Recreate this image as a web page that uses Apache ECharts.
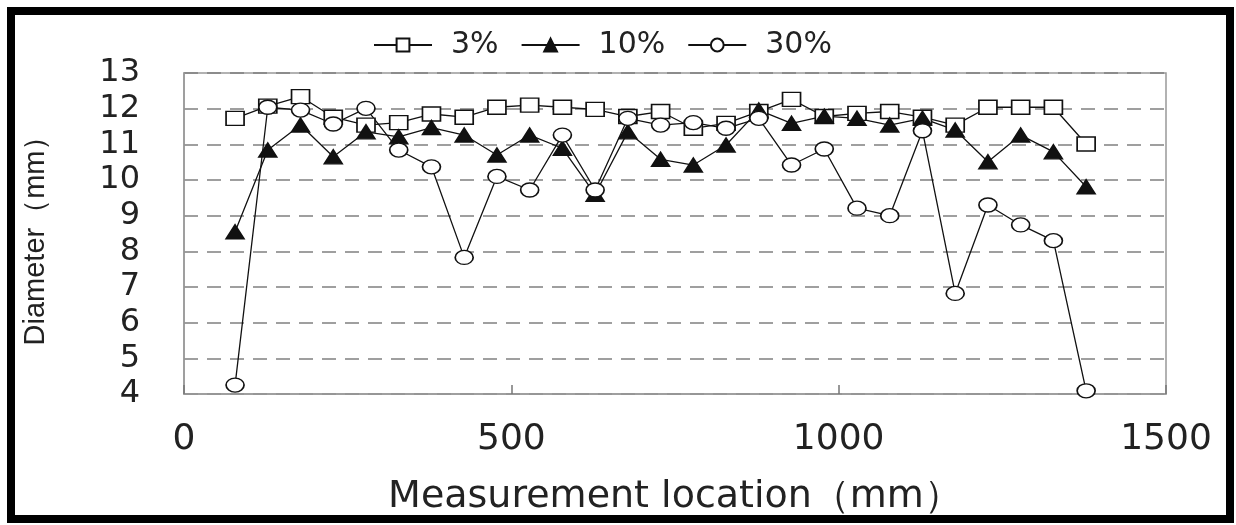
<!DOCTYPE html>
<html>
<head>
<meta charset="utf-8">
<script src="https://cdn.jsdelivr.net/npm/echarts@6/dist/echarts.min.js"></script>
<style>
html,body{margin:0;padding:0;background:#fff;}
#chart{width:1236px;height:525px;}
</style>
</head>
<body>
<div id="chart"></div>
<script>
// Measurement locations (mm)
const positions = [78,128,178,228,278,328,378,428,478,528,578,628,678,728,778,828,878,928,978,1028,1078,1128,1178,1228,1278,1328,1378];
// Diameter (mm) for each series
const s3  = [11.73,12.07,12.34,11.76,11.54,11.61,11.85,11.76,12.04,12.10,12.04,11.98,11.78,11.92,11.45,11.59,11.92,12.26,11.78,11.87,11.92,11.76,11.54,12.04,12.04,12.04,11.01];
const s10 = [8.55,10.84,11.54,10.65,11.35,11.21,11.47,11.26,10.70,11.26,10.89,9.60,11.35,10.58,10.42,10.98,11.96,11.59,11.79,11.73,11.54,11.73,11.40,10.51,11.26,10.79,9.81];
const s30 = [4.25,12.04,11.96,11.57,12.01,10.84,10.37,7.83,10.10,9.72,11.26,9.72,11.73,11.54,11.61,11.45,11.73,10.42,10.87,9.21,9.00,11.38,6.82,9.30,8.74,8.30,4.09];
const seriesNames = ['3%','10%','30%'];
const xTicks = [0,500,1000,1500];
const yTicks = [4,5,6,7,8,9,10,11,12,13];

function pairs(vals){ return positions.map((p,i)=>[p, vals[i]]); }

const chart = echarts.init(document.getElementById('chart'), null, {renderer:'canvas'});
const lineStyle = {color:'#111', width:1.3};
const mk = (name, vals, symbol, fill) => ({
  name: name, type:'line', data: pairs(vals),
  symbol: symbol, symbolSize:[18,14],
  lineStyle: lineStyle,
  itemStyle:{color: fill, borderColor:'#111', borderWidth:1.5},
  emphasis:{disabled:true}, animation:false, z: 3
});

chart.setOption({
  backgroundColor:'#fff',
  animation:false,
  graphic:[{
    type:'rect', shape:{x:11,y:11,width:1219,height:508},
    style:{fill:'none', stroke:'#000', lineWidth:8}, z:100
  }],
  legend:{
    top:25, left:368,
    itemWidth:58, itemHeight:16, itemGap:22,
    textStyle:{fontFamily:'DejaVu Sans', fontSize:30, color:'#222', padding:[0,0,0,14]},
    data: seriesNames
  },
  grid:{left:184, top:73, right:70, bottom:131, show:true, borderColor:'#999', borderWidth:1.5, backgroundColor:'#fff'},
  xAxis:{
    type:'value', min:xTicks[0], max:xTicks[xTicks.length-1], interval:500,
    name:'Measurement location（mm）', nameLocation:'middle', nameGap:84,
    nameTextStyle:{fontFamily:'DejaVu Sans', fontSize:38, color:'#222'},
    axisLine:{show:true, lineStyle:{color:'#999', width:1.5}},
    axisTick:{show:true, inside:true, length:9, lineStyle:{color:'#777', width:1.5}},
    axisLabel:{fontFamily:'DejaVu Sans', fontSize:36, color:'#222', margin:28, formatter: v => String(v)},
    splitLine:{show:false}
  },
  yAxis:{
    type:'value', min:yTicks[0], max:yTicks[yTicks.length-1], interval:1,
    name:'Diameter（mm）', nameLocation:'middle', nameGap:134,
    nameTextStyle:{fontFamily:'Liberation Sans', fontSize:29, color:'#222'},
    axisLine:{show:true, lineStyle:{color:'#999', width:1.5}},
    axisTick:{show:false},
    axisLabel:{fontFamily:'DejaVu Sans', fontSize:32, color:'#222', margin:44, formatter: v => String(v)},
    splitLine:{show:true, lineStyle:{color:'#808080', width:1.5, type:[14,9]}}
  },
  series:[
    mk(seriesNames[0], s3, 'rect', '#fff'),
    mk(seriesNames[1], s10, 'triangle', '#111'),
    mk(seriesNames[2], s30, 'circle', '#fff')
  ]
});
</script>
</body>
</html>
